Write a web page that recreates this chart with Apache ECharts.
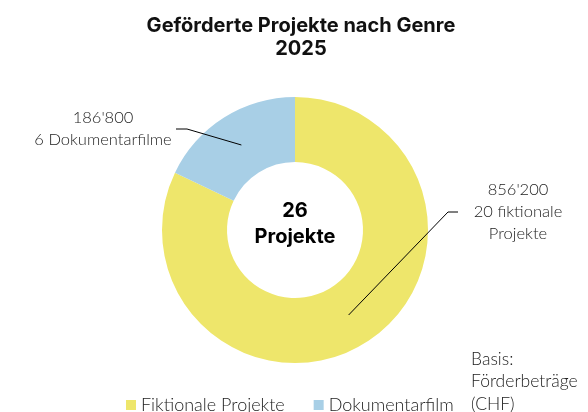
<!DOCTYPE html>
<html><head><meta charset="utf-8">
<script src="https://cdn.jsdelivr.net/npm/echarts@6/dist/echarts.min.js"></script>
<style>html,body{margin:0;padding:0;background:#fff}#c{width:588px;height:412px}</style>
</head><body><div id="c"></div>
<script>
const categories = ['Fiktionale Projekte', 'Dokumentarfilm'];
const amounts = [856200, 186800];
const amountLabels = ["856'200", "186'800"];
const countLabels = ['20 fiktionale\nProjekte', '6 Dokumentarfilme'];
const totalLabel = '26\nProjekte';
const colors = ['#EEE66B', '#A8CFE6'];

const FONT = 'Lato';
const BOLD = 'Inter';
const CX = 295, CY = 230, R_IN = 68, R_OUT = 133;
const labelPos = [
  {x: 518, y: 212, bend: [448, 212], end: [458, 212]},
  {x: 103, y: 129, bend: [187, 129], end: [176, 129]}
];
const total = amounts.reduce((a, b) => a + b, 0);
function midPoint(i) {
  let cum = 0;
  for (let k = 0; k < i; k++) cum += amounts[k];
  const ang = (90 - 360 * (cum + amounts[i] / 2) / total) * Math.PI / 180;
  const r = (R_IN + R_OUT) / 2;
  return [CX + r * Math.cos(ang), CY - r * Math.sin(ang)];
}
const pieData = categories.map((c, i) => ({name: c, value: amounts[i]}));

const chart = echarts.init(document.getElementById('c'), null, {renderer: 'canvas'});
chart.setOption({
  animation: false,
  title: {
    text: 'Geförderte Projekte nach Genre\n2025',
    left: 296, top: 9, textAlign: 'center',
    textStyle: {fontFamily: BOLD, fontWeight: 'bold', fontSize: 20, lineHeight: 23, color: '#111'}
  },
  legend: {
    data: categories, left: 121, top: 391, icon: 'rect', itemWidth: 10, itemHeight: 10, itemGap: 29,
    textStyle: {fontFamily: FONT, fontSize: 18, fontWeight: 300, color: '#222'}
  },
  graphic: [{
    type: 'text', left: 471, top: 348,
    style: {text: 'Basis:\nFörderbeträge\n(CHF)', font: '300 17.5px ' + FONT, lineHeight: 22.5, fill: '#222'}
  }, {
    type: 'text', x: CX, y: CY - 6, z: 10,
    style: {text: totalLabel, font: 'bold 20px ' + BOLD, lineHeight: 26, fill: '#000',
            align: 'center', verticalAlign: 'middle'}
  }],
  series: [{
    type: 'pie', z: 1, center: [CX, CY], radius: [R_IN, R_OUT], startAngle: 90, clockwise: true,
    color: colors, data: pieData,
    label: {show: false}, labelLine: {show: false},
    emphasis: {disabled: true}
  }, {
    type: 'pie', z: 5, center: [CX, CY], radius: [R_IN, R_OUT], startAngle: 90, clockwise: true,
    silent: true, legendHoverLink: false,
    data: pieData.map(d => ({name: d.name + ' ', value: d.value, itemStyle: {color: 'rgba(0,0,0,0)'}})),
    label: {
      show: true, position: 'outside', fontFamily: FONT, fontSize: 16.5, fontWeight: 300,
      color: '#222', lineHeight: 22, align: 'center',
      formatter: p => amountLabels[p.dataIndex] + '\n' + countLabels[p.dataIndex]
    },
    labelLine: {show: true, lineStyle: {color: '#000', width: 1}},
    labelLayout: function (p) {
      const lp = labelPos[p.dataIndex];
      return {
        x: lp.x, y: lp.y, align: 'center', verticalAlign: 'middle',
        labelLinePoints: [midPoint(p.dataIndex), lp.bend, lp.end]
      };
    },
    emphasis: {disabled: true}
  }]
});
</script></body></html>
